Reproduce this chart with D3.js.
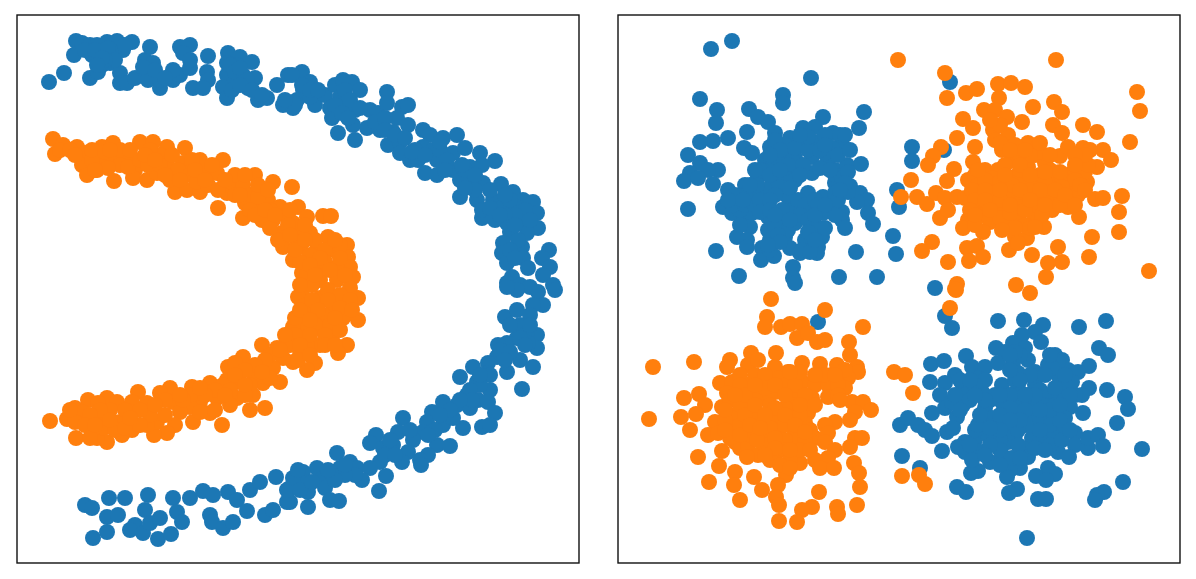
<!DOCTYPE html>
<html><head><meta charset="utf-8">
<style>html,body{margin:0;padding:0;background:#fff}svg{display:block}</style>
<script src="https://cdn.jsdelivr.net/npm/d3@7"></script>
</head><body><div id="c"></div>
<script>
// Values (reading units, y grows downward as read)
const moonsBlue=[[49,82],[64,73],[76,41],[74,55],[82,43],[90,45],[97,45],[107,42],[117,41],[132,42],[92,55],[103,53],[113,52],[123,50],[102,65],[110,63],[90,78],[98,72],[120,73],[120,83],[127,83],[135,78],[145,60],[153,63],[145,70],[152,72],[150,47],[148,80],[160,88],[160,80],[173,80],[180,75],[173,70],[190,68],[180,47],[190,45],[183,53],[190,60],[208,56],[207,72],[208,80],[193,88],[203,88],[228,53],[240,57],[252,62],[227,63],[237,65],[227,75],[223,87],[227,98],[235,82],[243,75],[255,78],[248,88],[258,100],[267,98],[277,85],[288,75],[283,105],[293,108],[297,100],
[302,72],[292,75],[310,82],[303,90],[295,105],[315,105],[310,97],[325,95],[335,85],[343,80],[352,82],[360,90],[340,97],[330,108],[332,118],[338,133],[343,107],[355,110],[355,140],[353,125],[367,128],[370,110],[378,113],[387,92],[387,103],[402,107],[408,105],[380,130],[388,145],[397,118],[408,125],[393,132],[400,142],[400,153],[410,160],[418,160],[425,173],[437,175],[423,130],[430,135],[423,147],[433,150],[443,138],[457,135],[437,160],[453,153],[465,148],[480,153],[495,161],[453,170],[460,180],[460,197],[470,167],[482,165],[470,180],[483,183],[501,184],[477,200],[482,218],[482,210],[493,200],[513,192],[523,200],[533,202],[503,207],[517,207],[537,213],[495,220],[507,223],[538,228],[523,223],[510,232],[527,233],[503,243],[502,253],[522,247],[507,263],[523,258],[528,268],[549,250],[542,258],[550,267],[543,275],[512,277],[507,283],[520,285],[530,287],[553,285],
[555,290],[538,292],[517,290],[507,287],[543,305],[533,305],[505,317],[517,310],[530,315],[520,325],[537,335],[527,333],[537,348],[528,343],[517,338],[507,343],[498,345],[497,357],[488,363],[473,367],[507,372],[520,360],[533,367],[522,389],[460,377],[477,382],[490,390],[487,373],[467,395],[478,400],[488,402],[495,413],[443,402],[457,405],[470,408],[482,427],[490,425],[463,428],[432,412],[427,422],[443,425],[453,418],[403,418],[398,432],[423,432],[413,440],[437,445],[450,446],[408,452],[428,455],[420,460],[421,465],[402,462],[376,435],[370,443],[383,448],[393,445],[337,453],[350,462],[340,468],[357,468],[380,462],[370,468],[362,480],[386,476],[379,491],[317,468],[303,472],[300,480],[323,478],[333,475],[325,488],[308,492],[330,500],[339,501],[308,507],[290,488],[290,502],
[85,505],[92,508],[109,498],[125,498],[107,517],[118,515],[148,495],[145,510],[107,532],[93,538],[135,525],[130,530],[143,533],[150,523],[160,518],[158,539],[171,534],[173,498],[177,512],[182,522],[190,498],[203,491],[213,495],[228,492],[237,500],[210,515],[212,522],[223,528],[233,522],[247,511],[250,490],[260,482],[276,477],[265,515],[273,510],[287,502],[287,490],[293,478],[298,470],
[85,50],[95,50],[108,48],[125,45],[115,60],[105,60],[102,58],[97,65],[143,67],[155,70],[165,78],[230,65],[235,72],[240,68],[247,80],[232,90],[240,85],[252,90],[262,95],[285,100],[302,85],[310,90],[318,90],[345,90],[350,100],[335,105],[342,113],[360,108],[348,118],[375,122],[385,118],[385,130],[395,135],[405,138],[415,150],[412,152],[425,155],[440,150],[447,160],[465,170],[462,165],[475,175],[475,190],[465,188],[490,208],[510,200],[525,210],[530,220],[515,215],[505,215],[518,240],[510,250],[515,258],
[510,325],[520,338],[530,325],[525,345],[500,350],[510,352],[505,360],[490,375],[480,385],[480,375],[470,390],[472,400],[460,400],[450,410],[440,415],[435,430],[428,435],[390,440],[385,455],[395,455],[410,430],[355,475],[345,475],[335,480],[328,470],
[490,190],[505,195],[500,215],[515,225],[445,170],[440,142],[300,490],[312,482],[345,465]];
const moonsOrange=[[53,139],[55,154],[63,145],[77,147],[85,153],[82,165],[87,175],[97,170],[102,147],[113,143],[100,160],[113,157],[127,157],[114,181],[140,142],[153,142],[167,147],[185,148],[160,155],[135,170],[133,178],[147,180],[157,173],[167,163],[175,192],[170,180],[183,163],[200,160],[223,160],[187,190],[200,192],[207,173],[217,173],[227,193],[218,208],[233,183],[255,175],[243,185],[273,182],[292,187],[245,203],[243,218],[257,210],[268,200],[280,207],[273,220],[282,233],[283,247],[293,260],[293,223],[297,240],[302,273],
[323,216],[331,216],[298,207],[307,217],[297,227],[310,233],[328,237],[347,245],[348,257],[333,250],[317,250],[300,247],[350,267],[353,277],[337,267],[320,267],[307,273],[337,280],[320,280],
[350,288],[358,298],[358,320],[347,305],[333,305],[320,298],[303,297],[307,312],[297,318],[323,315],[343,318],[347,345],[338,353],[332,340],[318,328],[303,330],[293,327],[320,345],[307,345],[315,363],[307,370],[293,362],[300,355],
[298,297],[295,318],[293,335],[298,360],[262,345],[277,348],[283,358],[273,368],[280,382],[263,383],[243,357],[228,367],[235,363],[227,380],[240,382],[255,378],[237,398],[250,410],[265,408],[253,395],[210,383],[223,385],[192,387],[217,398],[222,425],[210,413],[200,402],[193,422],[190,407],[170,388],[160,393],[138,392],[132,402],[147,403],[173,402],[180,412],[175,425],[167,433],[154,435],[157,422],[147,425],[132,430],[122,435],[120,422],[107,398],[117,402],[88,400],[98,403],[107,442],[97,438],[103,428],[93,428],[107,415],[97,417],[75,408],[82,412],[67,419],[75,422],[76,438],[50,421],
[60,150],[70,150],[92,160],[92,150],[105,152],[120,150],[120,165],[108,168],[128,167],[140,160],[148,165],[150,150],[160,165],[172,155],[178,170],[190,175],[197,182],[208,185],[218,190],[212,165],[192,160],[235,175],[245,175],[262,190],[250,195],[258,197],[235,195],[270,210],[262,220],[250,210],[285,215],[288,225],[278,240],[270,228],[290,235],[305,225],[315,240],[325,250],[340,245],[310,255],[325,262],[340,258],[300,262],[312,285],[328,290],[340,295],[350,300],[345,315],[330,325],[315,325],[305,305],[300,285],[300,310],[295,335],[310,335],[325,335],[340,330],
[290,345],[270,355],[285,345],[265,360],[255,365],[245,370],[250,385],[270,378],[235,375],[230,390],[245,395],[215,390],[205,395],[190,395],[200,412],[215,410],[230,405],[183,400],[165,400],[165,415],[150,415],[140,410],[125,410],[140,425],[110,410],[115,430],[100,410],[90,415],[85,425],[90,438],[70,410],[125,428],
[295,250],[305,240],[320,258],[335,240],[310,265],[330,270],[345,275],[315,275],[328,300],[312,300],[340,308],[352,310],[318,310],[335,318],[310,320],[325,345],[335,345],[300,345],[310,355],[285,335],[280,350],[262,372],[245,385],[225,395],[200,388],[180,395],[155,405],[130,418],[110,420],[95,425],[75,155],[95,170],[110,150],[130,150],[145,155],[155,160],[165,175],[180,180],[195,170],[205,180],[225,180],[240,195],[258,185],[268,190],[255,215],[265,210],[275,215],[290,210]];
const blobsBlue=[[711,49],[732,41],[811,78],[700,99],[783,95],[783,103],[717,110],[716,123],[749,109],[758,117],[768,122],[775,133],[823,117],[864,112],[859,128],[747,132],[728,138],[713,141],[700,142],[688,155],[744,148],[752,153],[700,163],[718,170],[708,170],[690,173],[684,181],[698,178],[713,184],[688,209],
[803,128],[815,127],[833,133],[842,145],[790,138],[802,143],[818,142],[832,148],[770,147],[782,153],[795,158],[812,157],[828,160],[765,160],[775,167],[792,170],[812,173],[835,170],[847,165],[861,164],[758,177],[772,180],[835,183],[850,186],[860,193],[867,200],[857,202],[868,213],[873,224],[842,212],[842,220],[845,228],[893,236],[896,254],[856,252],[877,277],[839,277],[897,190],[899,207],
[728,190],[745,185],[723,207],[732,213],[738,200],[755,193],[765,190],[743,218],[752,213],[750,227],[763,207],[768,217],[768,230],[737,237],[747,240],[747,247],[770,240],[762,248],[761,260],[774,256],[716,251],[739,276],
[788,197],[792,210],[782,222],[795,223],[785,237],[790,248],[800,253],[812,230],[822,237],[805,240],[818,247],[817,253],[808,193],[823,197],[835,193],[812,210],[823,213],[793,267],[793,278],[795,283],
[950,82],[912,147],[912,161],[944,150],[935,288],[818,322],
[945,316],[952,328],[998,321],[1024,320],[1043,325],[1079,327],[1106,321],[1035,332],[1041,342],[1022,335],[1013,343],[996,348],[1005,352],[1025,348],[966,356],[931,364],[944,361],[930,382],[972,367],[985,367],[998,363],[1013,363],[1028,360],[1035,372],[1055,355],[1062,360],[1048,365],[1068,370],[1089,366],[1099,348],[1108,355],[1078,372],[955,375],[945,383],[940,395],[962,383],[978,378],[1018,373],[1058,375],[1072,382],[1089,388],[1107,390],[1125,397],[1128,409],[1082,395],[965,395],[982,392],[1002,385],[1018,388],[1035,385],[1058,397],[945,408],[952,402],[963,405],[985,408],[1002,402],[1018,402],[1038,400],[1070,407],[1083,413],[932,413],[957,417],[992,418],[1012,415],[1032,415],[1052,412],[1065,418],[1117,423],[900,425],[908,418],[918,425],[925,430],[932,436],[947,432],[953,428],[983,425],[1005,428],[1025,425],[1045,428],[1062,428],[965,442],[958,447],[975,440],[988,435],[1008,442],[1032,438],[1052,435],[1075,433],[1075,445],[1088,448],[1088,438],[1098,435],[1103,446],[1142,449],[942,451],[902,456],[920,468],[965,452],[982,452],[990,462],[1002,455],[1022,448],[1028,457],[1058,452],[1069,457],[1020,468],[1010,470],[1007,477],[978,471],[971,473],[1048,468],[1055,474],[1036,476],[1046,480],[1123,482],[957,487],[966,492],[1017,489],[1009,493],[1038,499],[1046,499],[1104,492],[1097,495],[1095,500],[1027,538],
[785,145],[795,148],[808,150],[825,153],[838,155],[778,158],[788,165],[803,165],[820,168],[762,170],[785,178],[795,180],[780,187],[790,188],[835,175],[842,178],[848,172],[730,200],[740,210],[733,205],[745,205],[755,205],[760,200],[775,195],[798,200],[805,205],[815,200],[830,205],[838,200],[848,192],[818,205],[800,215],[808,220],[760,212],[775,225],[788,230],[815,225],[825,228],[770,250],[778,235],[802,250],[810,252],[808,137],[825,135],[840,135],[775,140],[780,150],[770,155],[757,185],
[1020,355],[1015,380],[1028,395],[1040,390],[1050,395],[1045,405],[1055,405],[1028,405],[1010,395],[995,395],[990,400],[1030,425],[1040,418],[1050,425],[1060,420],[1040,438],[1015,435],[1000,440],[1018,445],[1000,450],[1050,445],[1062,440],[995,428],[975,430],[975,450],[960,380],[985,380],[975,385],[978,425],[1010,408],[1025,410],[1042,405],[1058,362],[1065,385],[1052,368],[1015,352],[1012,458],[990,445],[972,460],[1055,388],[1075,395],[1018,430],
[760,170],[770,175],[780,170],[800,175],[770,200],[745,195],[735,195],[728,200],[740,225],[770,210],[782,210],[845,183],[840,190],[830,170],[820,150],[800,135],[825,145],[850,150],[845,135],[835,215],[815,215],[825,205],[808,232],[815,240],[790,220],[775,215],[780,242],[768,245],[755,170],[750,185],[743,200],
[1030,375],[1010,355],[1000,395],[985,400],[970,380],[970,400],[955,395],[960,410],[975,395],[980,415],[1000,415],[1020,420],[1040,430],[1050,410],[1070,395],[1065,375],[1045,375],[1050,355],[1035,395],[1025,395],[1010,420],[1000,430],[990,428],[985,455],[970,445],[1000,465],[1020,458],[1035,448],[1045,450],[1070,430],[1060,405],[1040,410],[1020,380],[1010,370]];
const blobsOrange=[[898,60],[1056,60],[945,73],[947,98],[966,93],[977,89],[998,84],[1011,83],[1025,87],[1137,92],[1140,111],[1054,102],[1062,112],[1033,107],[999,98],[984,110],[995,110],[1007,117],[1022,122],[963,119],[973,128],[957,138],[993,130],[1008,135],[1083,125],[1097,132],[1130,142],[1053,125],[1062,133],[941,147],[933,156],[928,165],[954,169],[947,181],[911,180],[901,197],[917,197],[927,204],[936,193],[945,198],[940,218],[948,210],[957,197],[975,147],[973,162],[995,140],[1002,150],[1028,143],[1038,147],[1060,156],[1068,147],[1083,148],[1103,150],[1111,160],[1097,167],[1080,163],[985,170],[968,180],[965,198],[982,190],[998,170],[1012,160],[1028,167],[1045,163],[1015,177],[1035,183],[1055,177],[1072,173],[1087,182],[1078,195],[995,190],[1008,200],[1022,197],[1042,200],[1062,197],[1068,207],[1079,217],[1095,199],[1103,198],[1122,196],[1119,212],[1119,232],[1092,237],[1089,257],[1149,271],[983,210],[1002,210],[1018,217],[1035,217],[1052,210],[968,220],[963,228],[990,222],[983,232],[1008,223],[1025,225],[1044,227],[1015,237],[1027,238],[1009,250],[1018,243],[1032,255],[1058,247],[1062,262],[1048,263],[1046,277],[932,242],[922,251],[967,248],[977,246],[983,257],[969,261],[948,262],[957,284],[956,290],[1016,285],[1030,293],[955,289],[950,308],
[771,299],[825,310],[767,317],[765,327],[781,327],[790,324],[802,324],[797,338],[808,333],[817,342],[825,340],[863,327],[849,342],[850,355],[857,367],[858,372],[653,367],[694,362],[751,353],[776,353],[730,360],[727,367],[748,365],[758,360],[775,367],[802,363],[820,364],[837,365],[788,372],[832,375],[848,378],[720,383],[732,382],[748,385],[765,383],[778,378],[802,382],[815,385],[828,385],[845,388],[727,393],[742,395],[762,398],[775,392],[792,395],[812,398],[828,397],[699,394],[684,398],[705,405],[722,407],[748,408],[795,405],[808,413],[852,402],[863,402],[871,410],[855,412],[696,414],[681,417],[649,419],[690,430],[715,422],[735,415],[755,422],[775,418],[792,418],[805,423],[850,420],[835,422],[825,425],[708,435],[718,433],[732,428],[747,428],[762,437],[778,432],[795,432],[815,438],[828,433],[855,438],[862,438],[850,447],[722,451],[735,442],[740,448],[748,445],[758,455],[747,457],[775,455],[778,442],[795,445],[805,448],[825,442],[835,450],[828,458],[800,463],[815,460],[820,468],[834,468],[698,457],[719,466],[735,472],[754,477],[786,475],[854,463],[859,473],[709,482],[734,485],[762,490],[778,485],[860,487],[819,492],[740,500],[776,497],[779,505],[857,505],[812,507],[802,510],[837,507],[838,514],[779,521],[797,522],
[894,372],[905,375],[913,393],[902,476],[919,475],[925,484],
[1015,145],[1020,155],[1035,155],[1050,170],[1005,165],[992,178],[975,175],[978,185],[1000,182],[1022,180],[1040,175],[1062,182],[972,190],[990,200],[975,200],[1015,190],[1030,190],[1048,190],[1070,190],[1085,172],[1075,180],[1050,200],[1060,205],[1035,205],[1020,207],[1000,218],[1010,213],[1042,215],[1030,228],[1015,228],[1002,230],[1008,190],[985,180],[1040,152],[1030,155],[1020,170],[1012,185],[1045,183],[1090,150],[1088,165],[1085,155],[1000,125],[990,120],[1000,143],[1075,155],[1050,155],[1062,187],[980,215],[975,225],[1000,200],
[1020,165],[1005,175],[985,190],[1010,205],[1025,210],[1040,190],[1055,190],[1020,190],[1030,175],[1045,172],[1060,172],[1065,195],[1010,150],[1025,150],[1040,143],[978,170],[985,200],[970,210],[975,215],[990,210],[1000,190],[1030,200],[1035,227],[1045,205],[1075,205],[1080,185],[1075,165],[1085,190],
[740,375],[755,375],[765,375],[740,385],[755,395],[770,405],[785,385],[795,385],[805,395],[820,375],[838,385],[845,370],[730,400],[740,405],[760,415],[770,428],[785,408],[785,425],[800,415],[785,440],[800,438],[810,430],[765,445],[770,460],[785,450],[790,460],[805,440],[740,425],[725,420],[730,438],[750,435],[745,415],[757,440],[765,388],[800,450],[775,408],[838,395],
[745,395],[755,385],[775,385],[785,395],[800,405],[815,405],[825,375],[835,375],[755,405],[765,415],[775,438],[785,415],[795,425],[805,432],[725,410],[735,395],[725,430],[740,435],[750,425],[760,428],[775,448],[790,450],[810,450],[765,455],[780,465],[790,468],[840,400],[815,375],[800,372],[790,372]];
const palette=["#1f77b4","#ff7f0e"];

const W=1196,H=579,mr=8;
const svg=d3.select("#c").append("svg").attr("width",W).attr("height",H);
const defs=svg.append("defs");
defs.append("filter").attr("id","soft").attr("x","-2%").attr("y","-2%").attr("width","104%").attr("height","104%")
  .append("feGaussianBlur").attr("stdDeviation",0.5);
function panel(x0,x1,y0,y1,series){
  const x=d3.scaleLinear().domain([x0,x1]).range([x0,x1]);
  const y=d3.scaleLinear().domain([y0,y1]).range([y0,y1]);
  const g=svg.append("g").attr("filter","url(#soft)");
  g.append("rect").attr("x",x(x0)).attr("y",y(y0)).attr("width",x(x1)-x(x0)).attr("height",y(y1)-y(y0))
   .attr("fill","#fff").attr("stroke","#111").attr("stroke-width",1.4);
  series.forEach((pts,i)=>{
    g.append("g").selectAll("circle").data(pts).join("circle")
     .attr("cx",d=>x(d[0])).attr("cy",d=>y(d[1])).attr("r",mr).attr("fill",palette[i]);
  });
}
panel(17,579,15,563,[moonsBlue,moonsOrange]);
panel(618,1180,15,563,[blobsBlue,blobsOrange]);
</script></body></html>
